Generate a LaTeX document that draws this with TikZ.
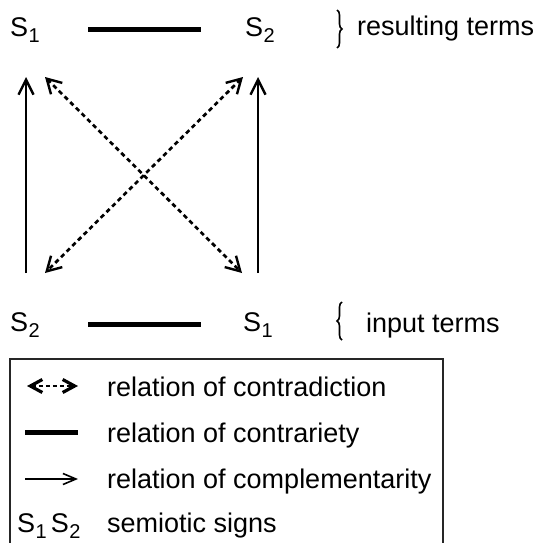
\documentclass[tikz,border=0pt]{standalone}
\usepackage{fontspec}
\setmainfont{Liberation Sans}
\usetikzlibrary{arrows.meta,decorations.pathreplacing}
\newcommand\Ssub[1]{S\kern0.5pt\raisebox{-6pt}{\fontsize{20}{24}\selectfont #1}}
\tikzset{
  lbl/.style={font=\fontsize{27}{32}\selectfont, inner sep=0pt, anchor=base west},
  contrary/.style={line width=5pt},
  compl/.style={line width=2.4pt, -{Straight Barb[length=15pt,width=15pt,line width=2.4pt]}},
  contra/.style={line width=2.7pt, dash pattern=on 4.5pt off 3.5pt,
    {Straight Barb[length=14pt,width=16pt,line width=2.4pt]}-{Straight Barb[length=14pt,width=16pt,line width=2.4pt]}},
  termbrace/.style={line width=1.6pt, decorate, decoration={brace, amplitude=5pt}},
  legendbox/.style={line width=1.2pt, draw=black!85},
}
\begin{document}
\begin{tikzpicture}[x=1pt,y=-1pt]
\useasboundingbox (0,0) rectangle (538,543);
% terms
\node[lbl] (S1t) at (10,37) {\Ssub{1}};
\node[lbl] (S2t) at (245,37) {\Ssub{2}};
\node[lbl] (S2b) at (10,331) {\Ssub{2}};
\node[lbl] (S1b) at (243,331) {\Ssub{1}};
\node[lbl] (res) at (357,36) {resulting terms};
\node[lbl] (inp) at (366,332) {input terms};
% connector end points
\coordinate (tL) at (88,30);
\coordinate (tR) at (201,30);
\coordinate (bL) at (88,324);
\coordinate (bR) at (201,324);
\coordinate (vLb) at (26,273);
\coordinate (vLt) at (26,77);
\coordinate (vRb) at (258,273);
\coordinate (vRt) at (258,77);
\coordinate (dTL) at (45,77);
\coordinate (dBR) at (242,273);
\coordinate (dTR) at (243,77);
\coordinate (dBL) at (45,273);
% contrariety
\draw[contrary] (tL) -- (tR);
\draw[contrary] (bL) -- (bR);
% complementarity
\draw[compl] (vLb) -- (vLt);
\draw[compl] (vRb) -- (vRt);
% contradiction
\draw[contra] (dTL) -- (dBR);
\draw[contra] (dTR) -- (dBL);
% braces
\coordinate (brT1) at (337,10);
\coordinate (brT2) at (337,48);
\coordinate (brB1) at (342,340);
\coordinate (brB2) at (342,302);
\draw[termbrace] (brT1) -- (brT2);
\draw[termbrace] (brB1) -- (brB2);
% legend box
\coordinate (bx1) at (10,548);
\coordinate (bx2) at (10,359);
\coordinate (bx3) at (443,359);
\coordinate (bx4) at (443,548);
\draw[legendbox] (bx1) -- (bx2) -- (bx3) -- (bx4);
% legend rows
\coordinate (l1a) at (27,386);
\coordinate (l1b) at (78,386);
\draw[line width=2.2pt, dash pattern=on 4pt off 3pt,
  {Straight Barb[length=12pt,width=13pt,line width=3.2pt]}-{Straight Barb[length=12pt,width=13pt,line width=3.2pt]}] (l1a) -- (l1b);
\node[lbl] (t1) at (107,396) {relation of contradiction};
\coordinate (l2a) at (25,432);
\coordinate (l2b) at (78,432);
\draw[contrary] (l2a) -- (l2b);
\node[lbl] (t2) at (107,442) {relation of contrariety};
\coordinate (l3a) at (25,479);
\coordinate (l3b) at (78,479);
\draw[line width=1.6pt, -{Straight Barb[length=13pt,width=11pt,line width=1.6pt]}] (l3a) -- (l3b);
\node[lbl] (t3) at (107,488) {relation of complementarity};
\node[lbl] (t4s) at (17,532) {\Ssub{1}\kern4pt\Ssub{2}};
\node[lbl] (t4) at (107,532) {semiotic signs};
\end{tikzpicture}
\end{document}
